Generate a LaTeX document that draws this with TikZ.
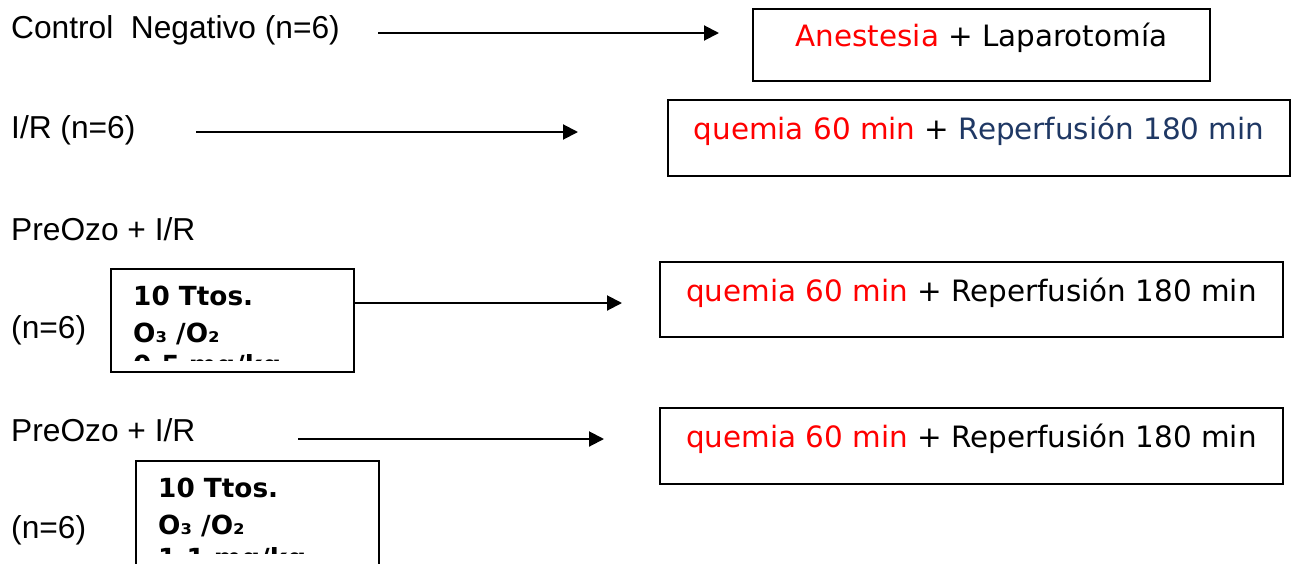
\documentclass[tikz,border=0pt]{standalone}
\usepackage{fontspec}
\setmainfont{Liberation Sans}
\newfontfamily\boxfont{DejaVu Sans}
\usetikzlibrary{arrows.meta}
\definecolor{ischred}{RGB}{255,0,0}
\definecolor{repblue}{RGB}{31,56,100}
\begin{document}
\begin{tikzpicture}[x=1pt,y=-1pt,
  lbl/.style={anchor=base west, inner sep=0pt, font=\fontsize{31.7}{38}\selectfont},
  boxtxt/.style={anchor=base, inner sep=0pt, font=\boxfont\fontsize{29.4}{35}\selectfont},
  dose/.style={anchor=base west, inner sep=0pt, font=\boxfont\bfseries\fontsize{26.3}{31}\selectfont},
  frame/.style={draw, line width=2pt, inner sep=0pt, outer sep=0pt},
  link/.style={line width=2pt, -{Triangle[length=15pt,width=15pt]}}]
\path[use as bounding box, clip] (0,0) rectangle (1295,563);

% group labels
\node[lbl] (g1) at (11,38) {Control~~Negativo (n=6)};
\node[lbl] (g2) at (11,138) {I/R (n=6)};
\node[lbl] (g3) at (11,240) {PreOzo + I/R};
\node[lbl] (n3) at (11,338) {(n=6)};
\node[lbl] (g4) at (11,441) {PreOzo + I/R};
\node[lbl] (n4) at (11,538) {(n=6)};

% procedure boxes
\node[frame, minimum width=457pt, minimum height=72pt] (b1) at (981.5,45) {};
\node[boxtxt] (t1) at (981.5,46) {\textcolor{ischred}{Anestesia} + Laparotomía};
\node[frame, minimum width=622pt, minimum height=76pt] (b2) at (979,138) {};
\node[boxtxt] (t2) at (979,139) {\textcolor{ischred}{quemia 60 min} + \textcolor{repblue}{Reperfusión 180 min}};
\node[frame, minimum width=623pt, minimum height=75pt] (b3) at (971.5,299.5) {};
\node[boxtxt] (t3) at (971.5,301) {\textcolor{ischred}{quemia 60 min} + Reperfusión 180 min};
\node[frame, minimum width=623pt, minimum height=76pt] (b4) at (971.5,446) {};
\node[boxtxt] (t4) at (971.5,447) {\textcolor{ischred}{quemia 60 min} + Reperfusión 180 min};

% ozone dose boxes
\node[frame, minimum width=243pt, minimum height=103pt] (s3) at (232.5,320.5) {};
\node[dose] (d3a) at (133,305) {10 Ttos.};
\node[dose] (d3b) at (133,342) {O₃ /O₂};
\begin{scope}
  \clip (111,269) rectangle (354,360);
  \node[dose] (d3c) at (133,374) {0,5 mg/kg};
\end{scope}
\node[frame, minimum width=243pt, minimum height=159pt] (s4) at (257.5,540.5) {};
\node[dose] (d4a) at (158,497) {10 Ttos.};
\node[dose] (d4b) at (158,534) {O₃ /O₂};
\begin{scope}
  \clip (136,461) rectangle (379,553);
  \node[dose] (d4c) at (158,567) {1,1 mg/kg};
\end{scope}

% arrows
\coordinate (a1s) at (378,33);  \coordinate (a1e) at (719,33);
\coordinate (a2s) at (196,132); \coordinate (a2e) at (578,132);
\coordinate (a3e) at (622,303);
\coordinate (a4s) at (298,439); \coordinate (a4e) at (604,439);
\draw[link] (a1s) -- (a1e);
\draw[link] (a2s) -- (a2e);
\draw[link] (s3.east |- a3e) -- (a3e);
\draw[link] (a4s) -- (a4e);
\end{tikzpicture}
\end{document}
